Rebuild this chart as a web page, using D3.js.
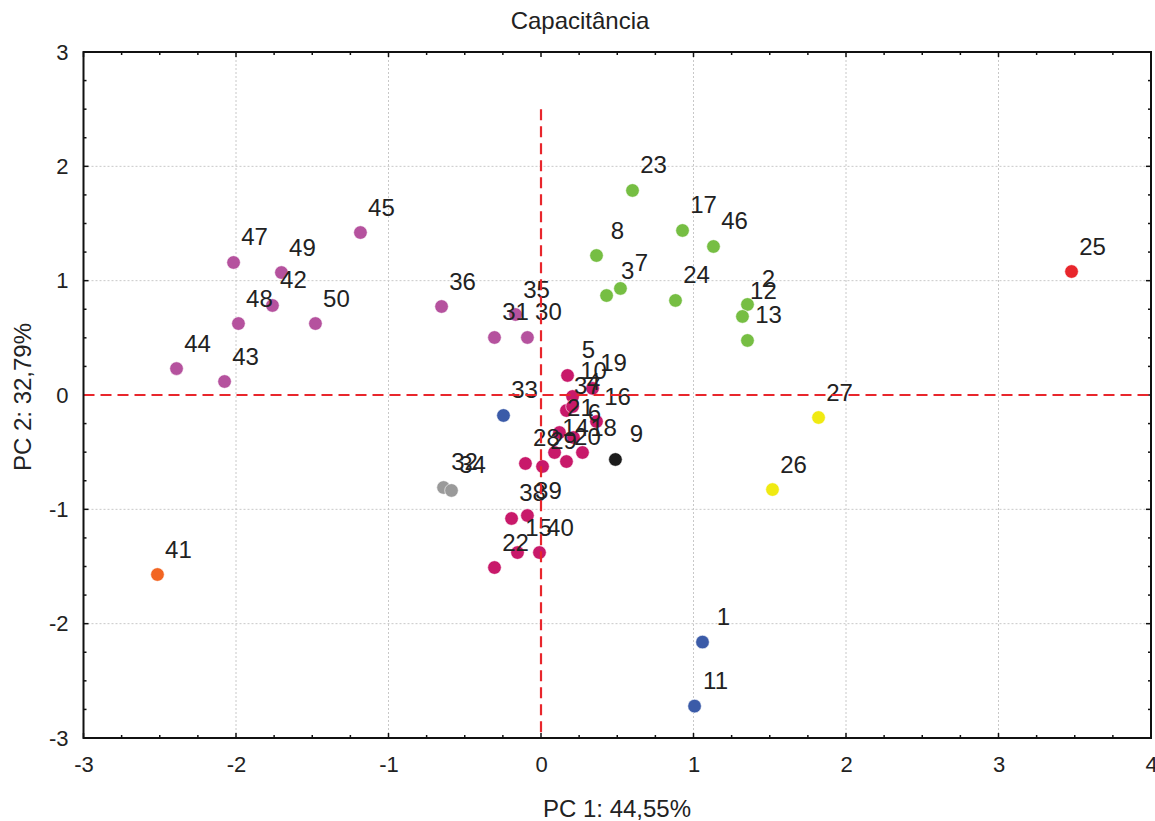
<!DOCTYPE html>
<html>
<head>
<meta charset="utf-8">
<script src="https://cdn.jsdelivr.net/npm/d3@7"></script>
<style>
  body { margin: 0; background: #fff; }
  text { font-family: "Liberation Sans", Arial, sans-serif; }
</style>
</head>
<body>
<svg id="chart" width="1155" height="821"></svg>
<script>
// sample labels, PCA scores and group per sample
const ids = [
  45, 47, 49, 42, 48, 50, 44, 43, 36, 35, 31, 30,
  23, 17, 46, 8, 3, 7, 24, 2, 12, 13,
  25, 27, 26, 41, 1, 11, 33, 32, 34, 9,
  5, 19, 10, 37, 4, 16, 21, 6, 14, 18, 20, 28, 29, 38, 39, 15, 40, 22
];
const pc1 = [
  -1.184, -2.016, -1.702, -1.761, -1.984, -1.479, -2.390, -2.075, -0.652, -0.167, -0.305, -0.089,
  0.600, 0.928, 1.131, 0.364, 0.430, 0.521, 0.882, 1.354, 1.321, 1.354,
  3.479, 1.820, 1.518, -2.515, 1.059, 1.007, -0.246, -0.639, -0.587, 0.488,
  0.174, 0.338, 0.207, 0.167, 0.207, 0.364, 0.121, 0.213, 0.089, 0.272, 0.167, -0.102, 0.010,
  -0.193, -0.089, -0.154, -0.010, -0.305
];
const pc2 = [
  1.421, 1.159, 1.071, 0.783, 0.625, 0.625, 0.231, 0.118, 0.774, 0.704, 0.503, 0.503,
  1.789, 1.439, 1.299, 1.220, 0.870, 0.932, 0.827, 0.792, 0.687, 0.477,
  1.080, -0.197, -0.827, -1.570, -2.161, -2.721, -0.179, -0.809, -0.835, -0.564,
  0.171, 0.058, -0.013, -0.136, -0.101, -0.232, -0.328, -0.372, -0.503, -0.503, -0.582, -0.599, -0.625,
  -1.080, -1.054, -1.378, -1.378, -1.509
];
const groups = [
  "P", "P", "P", "P", "P", "P", "P", "P", "P", "P", "P", "P",
  "G", "G", "G", "G", "G", "G", "G", "G", "G", "G",
  "R", "Y", "Y", "O", "B", "B", "B", "S", "S", "K",
  "C", "C", "C", "C", "C", "C", "C", "C", "C", "C", "C", "C", "C", "C", "C", "C", "C", "C"
];
const groupNames = ["P", "G", "R", "Y", "O", "B", "S", "K", "C"];
const groupColors = ["#b5529e", "#76be43", "#e8262c", "#f0ea12", "#f26522", "#3b5ba8", "#9a9a9a", "#1c1c1c", "#c8196a"];
const xTicks = [-3, -2, -1, 0, 1, 2, 3, 4];
const yTicks = [-3, -2, -1, 0, 1, 2, 3];

const svg = d3.select("#chart");
const W = 1155, H = 821;
const m = { left: 83.5, right: 4, top: 52, bottom: 83 };

const x = d3.scaleLinear().domain([-3, 4]).range([m.left, W - m.right]);
const y = d3.scaleLinear().domain([-3, 3]).range([H - m.bottom, m.top]);
const color = d3.scaleOrdinal().domain(groupNames).range(groupColors);

const pts = ids.map((id, i) => ({ id, x: pc1[i], y: pc2[i], g: groups[i] }));
const minor = d3.range(-3, 4.01, 0.25);
const minorY = d3.range(-3, 3.01, 0.25);

svg.append("rect").attr("width", W).attr("height", H).attr("fill", "#fff");

// grid
const grid = svg.append("g").attr("stroke", "#c8c8c8").attr("stroke-width", 1).attr("stroke-dasharray", "2,2");
grid.selectAll(".gx").data(xTicks.filter(d => d > -3 && d < 4 && d !== 0)).enter().append("line")
  .attr("x1", d => x(d)).attr("x2", d => x(d)).attr("y1", y(3)).attr("y2", y(-3));
grid.selectAll(".gy").data(yTicks.filter(d => d > -3 && d < 3 && d !== 0)).enter().append("line")
  .attr("y1", d => y(d)).attr("y2", d => y(d)).attr("x1", x(-3)).attr("x2", x(4));

// minor ticks, inward on every side
const tk = svg.append("g").attr("stroke", "#111").attr("stroke-width", 1.5);
tk.selectAll(".tb").data(minor).enter().append("line")
  .attr("x1", d => x(d)).attr("x2", d => x(d))
  .attr("y1", y(-3)).attr("y2", d => y(-3) - (Number.isInteger(d) ? 5 : 3));
tk.selectAll(".tt").data(minor).enter().append("line")
  .attr("x1", d => x(d)).attr("x2", d => x(d))
  .attr("y1", y(3)).attr("y2", d => y(3) + (Number.isInteger(d) ? 5 : 3));
tk.selectAll(".tl").data(minorY).enter().append("line")
  .attr("y1", d => y(d)).attr("y2", d => y(d))
  .attr("x1", x(-3)).attr("x2", d => x(-3) + (Number.isInteger(d) ? 5 : 3));
tk.selectAll(".tr").data(minorY).enter().append("line")
  .attr("y1", d => y(d)).attr("y2", d => y(d))
  .attr("x1", x(4)).attr("x2", d => x(4) - (Number.isInteger(d) ? 5 : 3));

// tick labels (plain hyphen minus, as in the original)
svg.append("g").attr("transform", `translate(0,${y(-3) + 15})`)
  .call(d3.axisBottom(x).tickValues(xTicks).tickFormat(d => String(d)).tickSize(0))
  .call(g => g.select(".domain").remove())
  .selectAll("text").attr("font-size", 22).attr("fill", "#222")
  .attr("font-family", "Liberation Sans, Arial, sans-serif");
svg.append("g").attr("transform", `translate(${x(-3) - 12},0)`)
  .call(d3.axisLeft(y).tickValues(yTicks).tickFormat(d => String(d)).tickSize(0))
  .call(g => g.select(".domain").remove())
  .selectAll("text").attr("font-size", 22).attr("fill", "#222")
  .attr("font-family", "Liberation Sans, Arial, sans-serif");

// points
svg.append("g").selectAll("circle").data(pts).enter().append("circle")
  .attr("cx", d => x(d.x)).attr("cy", d => y(d.y)).attr("r", 6.8)
  .attr("fill", d => color(d.g))
  .attr("stroke", "#fff").attr("stroke-width", 0.6);

// point labels
svg.append("g").selectAll("text").data(pts).enter().append("text")
  .attr("x", d => x(d.x) + 21).attr("y", d => y(d.y) - 17)
  .attr("text-anchor", "middle").attr("font-size", 24).attr("fill", "#222")
  .text(d => d.id);

// origin lines
const zl = svg.append("g").attr("stroke", "#e8262c").attr("stroke-width", 2.2).attr("stroke-dasharray", "11,6");
zl.append("line").attr("x1", x(0)).attr("x2", x(0)).attr("y1", y(2.5)).attr("y2", y(-3));
zl.append("line").attr("x1", x(-3)).attr("x2", x(4)).attr("y1", y(0)).attr("y2", y(0));

// frame
svg.append("rect")
  .attr("x", x(-3)).attr("y", y(3))
  .attr("width", x(4) - x(-3)).attr("height", y(-3) - y(3))
  .attr("fill", "none").attr("stroke", "#111").attr("stroke-width", 2);

// titles
svg.append("text").attr("x", 580).attr("y", 29).attr("text-anchor", "middle")
  .attr("font-size", 24).attr("fill", "#222").text("Capacitância");
svg.append("text").attr("x", 617).attr("y", 817).attr("text-anchor", "middle")
  .attr("font-size", 24).attr("fill", "#222").text("PC 1: 44,55%");
svg.append("text").attr("transform", `translate(31,397) rotate(-90)`).attr("text-anchor", "middle")
  .attr("font-size", 24).attr("fill", "#222").text("PC 2: 32,79%");
</script>
</body>
</html>
